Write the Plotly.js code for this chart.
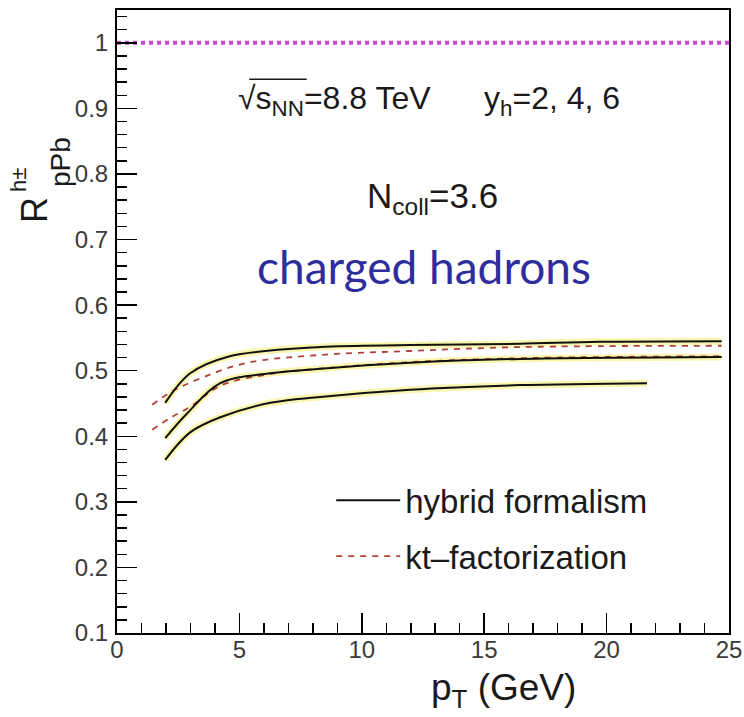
<!DOCTYPE html>
<html>
<head>
<meta charset="utf-8">
<script src="https://cdn.plot.ly/plotly-3.0.1.min.js"></script>
<style>html,body{margin:0;padding:0;background:#fff;}#chart{width:744px;height:717px;}</style>
</head>
<body>
<div id="chart"></div>
<script>
// ---- data ----
const hybridY2_pt = [1.97, 2.99, 4.50, 8.30, 11.97, 16.46, 19.7, 24.7];
const hybridY2_R  = [0.451, 0.496, 0.521, 0.536, 0.539, 0.541, 0.544, 0.545];

const hybridY4_pt = [1.97, 2.87, 4.22, 6.26, 8.30, 11.97, 16.46, 24.7];
const hybridY4_R  = [0.397, 0.435, 0.481, 0.496, 0.503, 0.512, 0.518, 0.521];

const hybridY6_pt = [1.97, 2.99, 4.22, 6.26, 8.30, 11.97, 16.46, 21.65];
const hybridY6_R  = [0.364, 0.406, 0.429, 0.451, 0.460, 0.471, 0.478, 0.481];

const ktUpper_pt = [1.44, 2.18, 3.52, 5.32, 8.30, 11.97, 16.46, 24.7];
const ktUpper_R  = [0.448, 0.467, 0.490, 0.512, 0.524, 0.530, 0.536, 0.538];

const ktLower_pt = [1.44, 2.18, 2.99, 4.22, 6.26, 8.30, 11.97, 16.46, 24.7];
const ktLower_R  = [0.410, 0.428, 0.445, 0.477, 0.495, 0.503, 0.513, 0.519, 0.522];

const unity_pt = [0, 25];
const unity_R  = [1, 1];

const xTickVals = [0, 5, 10, 15, 20, 25];
const yTickVals = [0.1, 0.2, 0.3, 0.4, 0.5, 0.6, 0.7, 0.8, 0.9, 1];
const yTickText = ['0.1', '0.2', '0.3', '0.4', '0.5', '0.6', '0.7', '0.8', '0.9', '1'];

// ---- traces ----
const halo = {color: 'rgba(245,232,80,0.45)', width: 7, shape: 'spline'};
const solid = {color: '#111111', width: 2, shape: 'spline'};
const dashed = {color: '#b0403a', width: 1.8, dash: '6px,6px', shape: 'spline'};

const traces = [
  {x: unity_pt, y: unity_R, mode: 'lines', line: {color: '#cc44d4', width: 4, dash: 'dot'}, showlegend: false, hoverinfo: 'skip'},
  {x: hybridY2_pt, y: hybridY2_R, mode: 'lines', line: halo, showlegend: false, hoverinfo: 'skip'},
  {x: hybridY4_pt, y: hybridY4_R, mode: 'lines', line: halo, showlegend: false, hoverinfo: 'skip'},
  {x: hybridY6_pt, y: hybridY6_R, mode: 'lines', line: halo, showlegend: false, hoverinfo: 'skip'},
  {x: ktUpper_pt, y: ktUpper_R, mode: 'lines', line: dashed, name: 'kt\u2013factorization', legendgroup: 'b', legendrank: 2, showlegend: true},
  {x: ktLower_pt, y: ktLower_R, mode: 'lines', line: dashed, showlegend: false, legendgroup: 'b'},
  {x: hybridY2_pt, y: hybridY2_R, mode: 'lines', line: solid, name: 'hybrid formalism', legendgroup: 'a', legendrank: 1, showlegend: true},
  {x: hybridY4_pt, y: hybridY4_R, mode: 'lines', line: solid, showlegend: false, legendgroup: 'a'},
  {x: hybridY6_pt, y: hybridY6_R, mode: 'lines', line: solid, showlegend: false, legendgroup: 'a'}
];

const tickFont = {family: 'Liberation Sans, Arial, sans-serif', size: 24, color: '#3a3a3a'};
const txtFont = (s, c) => ({family: 'Liberation Sans, Arial, sans-serif', size: s, color: c || '#1a1a1a'});

const layout = {
  width: 744, height: 717,
  margin: {l: 117, r: 15, t: 10, b: 84},
  paper_bgcolor: '#ffffff', plot_bgcolor: '#ffffff',
  showlegend: true,
  legend: {
    x: 0.35, y: 0.258, xanchor: 'left', yanchor: 'top',
    font: txtFont(33, '#1a1a1a'),
    bgcolor: 'rgba(0,0,0,0)', borderwidth: 0,
    traceorder: 'grouped', tracegroupgap: 10, itemwidth: 64
  },
  xaxis: {
    range: [0, 25], tickvals: xTickVals, ticks: 'inside', ticklen: 20, tickwidth: 1.5, tickcolor: '#000',
    showline: true, linecolor: '#000', linewidth: 2, mirror: true, showgrid: false, zeroline: false,
    tickfont: tickFont, ticklabelstandoff: -6,
    minor: {dtick: 1, ticks: 'inside', ticklen: 10, tickwidth: 1.5, tickcolor: '#000', showgrid: false}
  },
  yaxis: {
    range: [0.1, 1.05], tickvals: yTickVals, ticktext: yTickText, ticks: 'inside', ticklen: 20, tickwidth: 1.5, tickcolor: '#000',
    showline: true, linecolor: '#000', linewidth: 2, mirror: true, showgrid: false, zeroline: false,
    tickfont: tickFont, ticklabelstandoff: 2,
    minor: {dtick: 0.02, tick0: 0, ticks: 'inside', ticklen: 10, tickwidth: 1.5, tickcolor: '#000', showgrid: false}
  },
  shapes: [
    {type: 'line', xref: 'paper', yref: 'paper', x0: 0.216, x1: 0.31, y0: 0.889, y1: 0.889, line: {color: '#1a1a1a', width: 1.5}}
  ],
  annotations: [
    {xref: 'paper', yref: 'paper', x: 0.3546, y: 0.8555, xanchor: 'center', yanchor: 'middle', showarrow: false,
     text: '\u221As<sub>NN</sub>=8.8 TeV', font: txtFont(32)},
    {xref: 'paper', yref: 'paper', x: 0.711, y: 0.8555, xanchor: 'center', yanchor: 'middle', showarrow: false,
     text: 'y<sub>h</sub>=2, 4, 6', font: txtFont(32)},
    {xref: 'paper', yref: 'paper', x: 0.516, y: 0.698, xanchor: 'center', yanchor: 'middle', showarrow: false,
     text: 'N<sub>coll</sub>=3.6', font: txtFont(35)},
    {xref: 'paper', yref: 'paper', x: 0.5016, y: 0.589, xanchor: 'center', yanchor: 'middle', showarrow: false,
     text: 'charged hadrons', font: {family: 'Lato, Open Sans, sans-serif', size: 46, color: '#2d2d9c'}},
    {xref: 'paper', yref: 'paper', x: 0.632, y: -0.0915, xanchor: 'center', yanchor: 'middle', showarrow: false,
     text: 'p<sub>T</sub> (GeV)', font: txtFont(37)},
    {xref: 'paper', yref: 'paper', x: -0.134, y: 0.679, xanchor: 'center', yanchor: 'middle', showarrow: false,
     textangle: -90, text: 'R', font: txtFont(36)},
    {xref: 'paper', yref: 'paper', x: -0.162, y: 0.727, xanchor: 'center', yanchor: 'middle', showarrow: false,
     textangle: -90, text: 'h\u00B1', font: txtFont(22)},
    {xref: 'paper', yref: 'paper', x: -0.093, y: 0.756, xanchor: 'center', yanchor: 'middle', showarrow: false,
     textangle: -90, text: 'pPb', font: txtFont(28)}
  ]
};

Plotly.newPlot('chart', traces, layout, {staticPlot: true, displayModeBar: false});
</script>
</body>
</html>
